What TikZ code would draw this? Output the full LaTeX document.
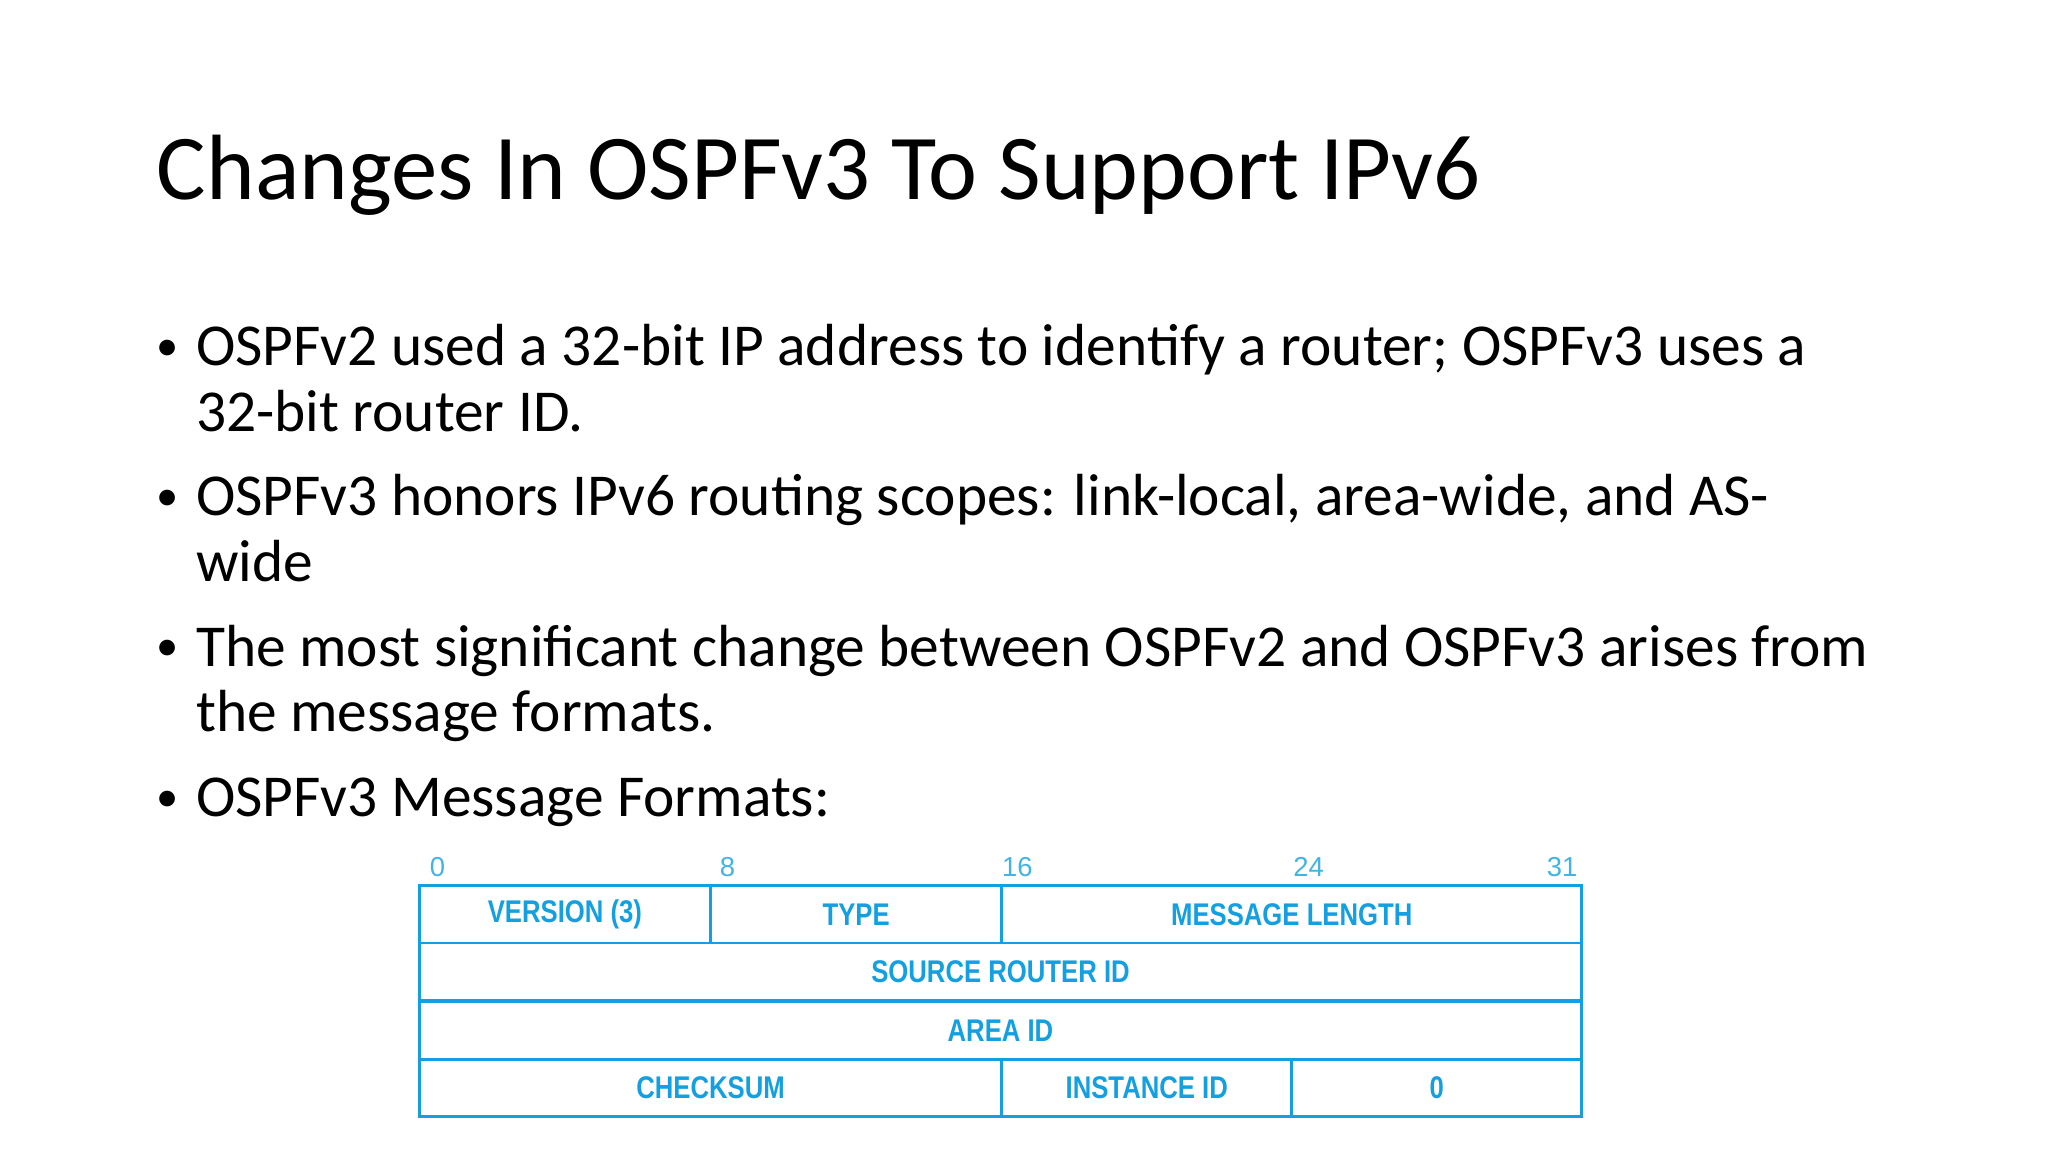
\documentclass[tikz,border=0pt]{standalone}
\usepackage{fontspec}
\setmainfont{Carlito}
\newfontfamily\tabfont{Liberation Sans}
\definecolor{tblue}{HTML}{14A0E0}
\begin{document}
\begin{tikzpicture}[x=1pt,y=-1pt,
  bul/.style={anchor=base west,inner sep=0,font=\fontsize{45.5}{50}\selectfont},
  ct/.style={text=tblue,font=\tabfont\bfseries\fontsize{24}{24}\selectfont},
  bit/.style={text=tblue!80,font=\tabfont\fontsize{21}{21}\selectfont,anchor=base}]
\useasboundingbox (0,0) rectangle (1568,882);
\node[anchor=base west,inner sep=0,font=\fontsize{71}{71}\selectfont] (title) at (120,153) {Changes In OSPFv3 To Support IPv6};
\foreach \y/\t [count=\i] in {
  280/{OSPFv2 used a 32-bit IP address to identify a router; OSPFv3 uses a},
  330/{32-bit router ID.},
  395/{OSPFv3 honors IPv6 routing scopes: link-local, area-wide, and AS-},
  445/{wide},
  510/{The most significant change between OSPFv2 and OSPFv3 arises from},
  560/{the message formats.},
  625/{OSPFv3 Message Formats:}}{
  \node[bul] (l\i) at (150,\y) {\t};
}
\foreach \y [count=\i] in {280,395,510,625}
  \node[anchor=base,inner sep=0,font=\fontsize{34}{40}\selectfont] (d\i) at (128,\y-4) {•};
\foreach \x/\t [count=\i] in {335/0,557/8,779/16,1002/24,1196/31}
  \node[bit] (n\i) at (\x,671) {\t};
\foreach \a/\b/\ya/\t [count=\i] in {321/544/678/VERSION (3),544/767/678/TYPE,767/1211/678/MESSAGE LENGTH,
  321/1211/722/SOURCE ROUTER ID,321/1211/767/AREA ID,
  321/767/811/CHECKSUM,767/989/811/INSTANCE ID,989/1211/811/0}{
  \draw[tblue,line width=2.2] (\a,\ya) rectangle (\b,\ya+44);
  \node[ct] (c\i) at ({(\a+\b)/2},\ya+22) {\scalebox{0.82}[1]{\t}};
}
\end{tikzpicture}
\end{document}
